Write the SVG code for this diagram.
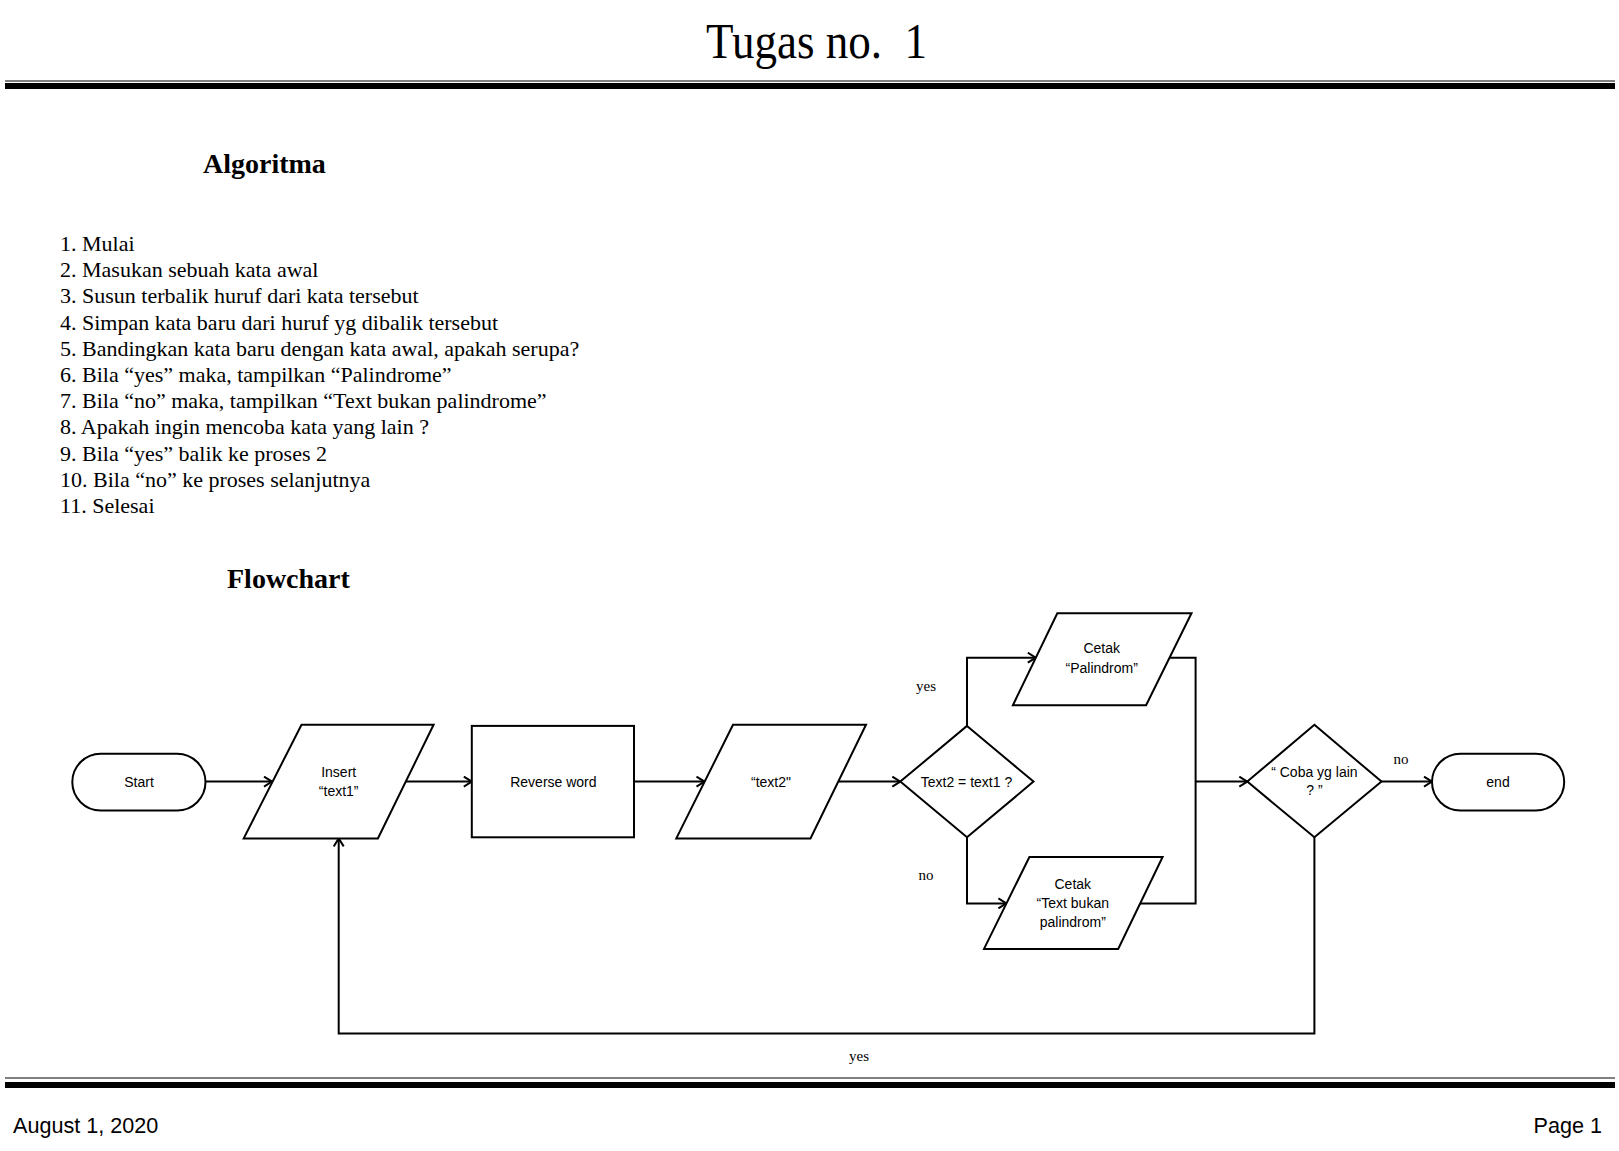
<svg xmlns="http://www.w3.org/2000/svg" width="1619" height="1151" viewBox="0 0 1619 1151">
<style>
.shape{fill:#fff;stroke:#000;stroke-width:2}
.conn{fill:none;stroke:#000;stroke-width:2}
.nt{font-family:"Liberation Sans",Arial,sans-serif;font-size:14px;fill:#000;text-anchor:middle}
.lbl{font-family:"Liberation Serif","Times New Roman",serif;font-size:15px;fill:#000;text-anchor:middle}
.list{font-family:"Liberation Serif","Times New Roman",serif;font-size:22px;fill:#000}
.head{font-family:"Liberation Serif","Times New Roman",serif;font-size:28px;font-weight:bold;fill:#000}
.foot{font-family:"Liberation Sans",Arial,sans-serif;font-size:21.6px;fill:#000}
</style>
<defs>
<marker id="arr" markerWidth="12" markerHeight="12" refX="10" refY="6" orient="auto" markerUnits="userSpaceOnUse">
<path d="M2,1 L10,6 L2,11" fill="none" stroke="#000" stroke-width="2"/>
</marker>
</defs>
<rect width="1619" height="1151" fill="#fff"/>

<g id="header">
<text x="706" y="58" font-family="'Liberation Serif','Times New Roman',serif" font-size="50" textLength="221" lengthAdjust="spacingAndGlyphs" xml:space="preserve">Tugas no.  1</text>
<rect x="5" y="80" width="1610" height="2" fill="#808080"/>
<rect x="5" y="83" width="1610" height="6" fill="#000"/>
</g>

<g id="algoritma">
<text class="head" x="203" y="173">Algoritma</text>
<text class="list" x="60" y="251">1. Mulai</text>
<text class="list" x="60" y="277.2">2. Masukan sebuah kata awal</text>
<text class="list" x="60" y="303.4">3. Susun terbalik huruf dari kata tersebut</text>
<text class="list" x="60" y="329.6">4. Simpan kata baru dari huruf yg dibalik tersebut</text>
<text class="list" x="60" y="355.8">5. Bandingkan kata baru dengan kata awal, apakah serupa?</text>
<text class="list" x="60" y="382">6. Bila “yes” maka, tampilkan “Palindrome”</text>
<text class="list" x="60" y="408.2">7. Bila “no” maka, tampilkan “Text bukan palindrome”</text>
<text class="list" x="60" y="434.4">8. Apakah ingin mencoba kata yang lain ?</text>
<text class="list" x="60" y="460.6">9. Bila “yes” balik ke proses 2</text>
<text class="list" x="60" y="486.8">10. Bila “no” ke proses selanjutnya</text>
<text class="list" x="60" y="513">11. Selesai</text>
<text class="head" x="227" y="588">Flowchart</text>
</g>

<g id="connectors">
<line class="conn" x1="205.5" y1="781.6" x2="272" y2="781.6" marker-end="url(#arr)"/>
<line class="conn" x1="406" y1="781.6" x2="471.8" y2="781.6" marker-end="url(#arr)"/>
<line class="conn" x1="634" y1="781.6" x2="704.5" y2="781.6" marker-end="url(#arr)"/>
<line class="conn" x1="838.5" y1="781.6" x2="900.3" y2="781.6" marker-end="url(#arr)"/>
<polyline class="conn" points="967,725.9 967,657.7 1035.8,657.7" marker-end="url(#arr)"/>
<polyline class="conn" points="967,837.3 967,903.4 1006.4,903.4" marker-end="url(#arr)"/>
<polyline class="conn" points="1169.5,657.7 1195.6,657.7 1195.6,903.4 1140,903.4"/>
<line class="conn" x1="1195.6" y1="781.6" x2="1247.3" y2="781.6" marker-end="url(#arr)"/>
<line class="conn" x1="1381.5" y1="781.6" x2="1432" y2="781.6" marker-end="url(#arr)"/>
<polyline class="conn" points="1314.4,837.3 1314.4,1033.5 338.7,1033.5 338.7,838.4" marker-end="url(#arr)"/>
<text class="lbl" x="926" y="691">yes</text>
<text class="lbl" x="926" y="880">no</text>
<text class="lbl" x="1401" y="764">no</text>
<text class="lbl" x="859" y="1061">yes</text>
</g>

<g id="start">
<rect class="shape" x="72.3" y="753.7" width="133.2" height="56.8" rx="28.4" ry="28.4"/>
<text class="nt" x="139" y="786.5">Start</text>
</g>
<g id="insert">
<polygon class="shape" points="301.5,724.8 433.6,724.8 377.9,838.4 243.7,838.4"/>
<text class="nt" x="338.7" y="777">Insert</text>
<text class="nt" x="338.7" y="796">“text1”</text>
</g>
<g id="reverse">
<rect class="shape" x="471.8" y="725.9" width="162.2" height="111.4"/>
<text class="nt" x="553.4" y="786.5">Reverse word</text>
</g>
<g id="text2">
<polygon class="shape" points="733,724.8 866,724.8 810.5,838.4 676.3,838.4"/>
<text class="nt" x="771" y="786.5">“text2"</text>
</g>
<g id="compare">
<polygon class="shape" points="967,725.9 1033.5,781.6 967,837.3 900.3,781.6"/>
<text class="nt" x="966.5" y="786.5">Text2 = text1 ?</text>
</g>
<g id="palindrom">
<polygon class="shape" points="1057.3,613.3 1191.5,613.3 1146.1,705.2 1012.9,705.2"/>
<text class="nt" x="1101.7" y="653">Cetak</text>
<text class="nt" x="1101.7" y="673">“Palindrom”</text>
</g>
<g id="bukan">
<polygon class="shape" points="1029.4,857 1162.6,857 1118.2,948.9 984,948.9"/>
<text class="nt" x="1072.8" y="889">Cetak</text>
<text class="nt" x="1072.8" y="907.5">“Text bukan</text>
<text class="nt" x="1072.8" y="927">palindrom”</text>
</g>
<g id="coba">
<polygon class="shape" points="1314.4,724.8 1381.5,781.6 1314.4,837.3 1247.3,781.6"/>
<text class="nt" x="1314.4" y="777">“ Coba yg lain</text>
<text class="nt" x="1314.4" y="795">? ”</text>
</g>
<g id="end">
<rect class="shape" x="1432" y="753.7" width="132.2" height="56.8" rx="28.4" ry="28.4"/>
<text class="nt" x="1498" y="786.5">end</text>
</g>

<g id="footer">
<rect x="5" y="1077" width="1610" height="2" fill="#808080"/>
<rect x="5" y="1082" width="1610" height="6" fill="#000"/>
<text class="foot" x="13" y="1133">August 1, 2020</text>
<text class="foot" x="1602" y="1133" text-anchor="end">Page 1</text>
</g>
</svg>
